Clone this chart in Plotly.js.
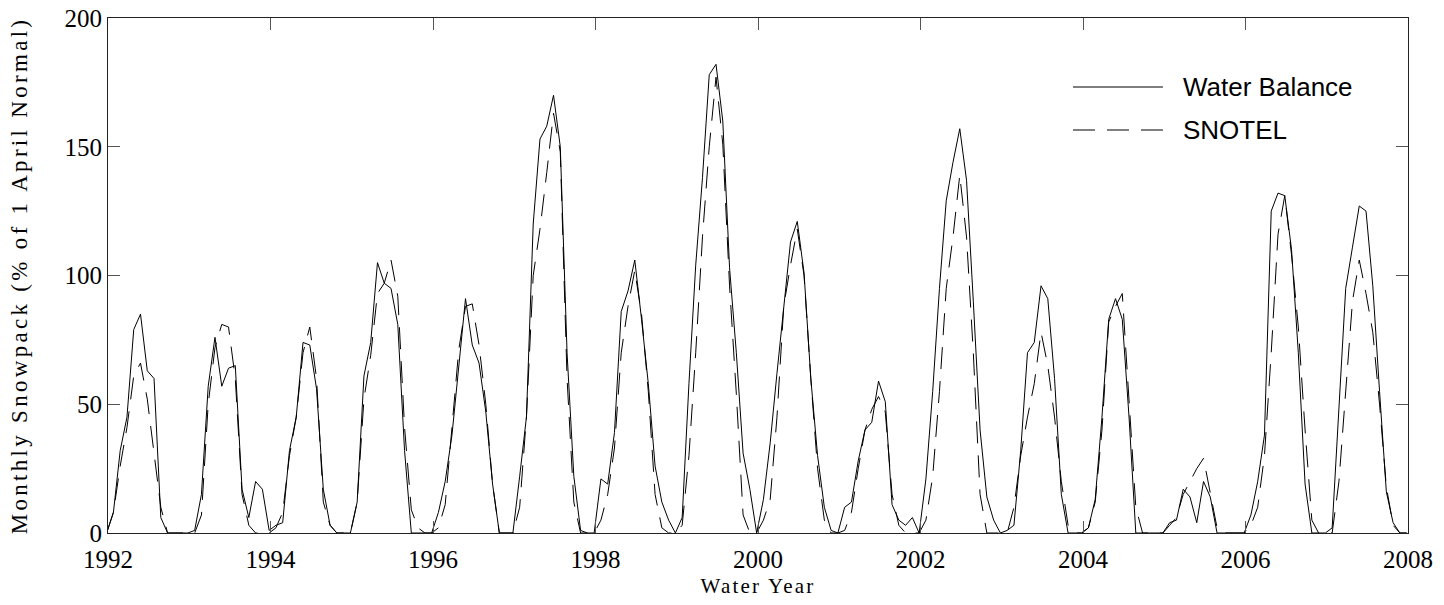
<!DOCTYPE html>
<html><head><meta charset="utf-8">
<script src="https://cdn.plot.ly/plotly-3.0.1.min.js"></script>
<style>html,body{margin:0;padding:0;background:#fff}</style>
</head><body><div id="chart" style="width:1444px;height:605px"></div>
<script>
const seriesNames = ["Water Balance", "SNOTEL"];
const firstYear = 1992;
const lastYear = 2008;
const xTickYears = [1992, 1994, 1996, 1998, 2000, 2002, 2004, 2006, 2008];
const yTickValues = [0, 50, 100, 150, 200];
const xTitle = "Water Year";
const yTitle = "Monthly Snowpack (% of 1 April Normal)";

// monthly values, one row per water year (Oct..Sep)
const waterBalance = [
  0, 8, 32, 45, 79, 85, 63, 60, 6, 0, 0, 0,          // 1992
  0, 1, 15, 57, 76, 57, 64, 65, 17, 6, 20, 17,       // 1993
  1, 3, 4, 32, 45, 74, 73, 56, 17, 3, 0, 0,          // 1994
  0, 12, 61, 74, 105, 97, 95, 81, 32, 0, 0, 0,       // 1995
  0, 8, 20, 38, 66, 91, 73, 66, 47, 19, 0, 0,        // 1996
  0, 22, 45, 120, 153, 158, 170, 150, 70, 22, 1, 0,  // 1997
  0, 21, 19, 39, 86, 94, 106, 83, 58, 26, 12, 5,     // 1998
  0, 6, 58, 104, 138, 178, 182, 160, 103, 70, 31, 17,// 1999
  0, 13, 35, 62, 88, 113, 121, 101, 60, 30, 10, 1,   // 2000
  0, 10, 12, 28, 40, 43, 59, 51, 11, 5, 3, 6,        // 2001
  0, 21, 55, 95, 129, 144, 157, 137, 90, 40, 14, 5,  // 2002
  0, 1, 3, 32, 70, 74, 96, 91, 60, 15, 0, 0,         // 2003
  0, 2, 13, 45, 83, 91, 83, 45, 0, 0, 0, 0,          // 2004
  0, 4, 5, 17, 14, 4, 20, 14, 0, 0, 0, 0,            // 2005
  0, 7, 20, 38, 125, 132, 131, 110, 70, 19, 0, 0,    // 2006
  0, 2, 47, 95, 111, 127, 125, 96, 55, 16, 4, 0,     // 2007
  0                                                  // 2008
];
const snotel = [
  0, 8, 26, 41, 61, 66, 52, 31, 10, 0, 0, 0,         // 1992
  0, 0, 7, 50, 72, 81, 80, 60, 15, 3, 0, 0,          // 1993
  0, 2, 8, 30, 45, 70, 80, 60, 12, 3, 0, 0,          // 1994
  0, 12, 52, 69, 93, 97, 106, 92, 41, 9, 2, 0,       // 1995
  0, 2, 11, 41, 71, 88, 89, 73, 50, 19, 0, 0,        // 1996
  0, 10, 45, 100, 118, 140, 163, 148, 60, 12, 0, 0,  // 1997
  0, 5, 15, 33, 70, 88, 102, 85, 55, 15, 2, 0,       // 1998
  0, 3, 30, 70, 115, 150, 177, 151, 96, 54, 7, 0,    // 1999
  0, 5, 13, 45, 88, 104, 118, 100, 60, 25, 5, 0,     // 2000
  0, 1, 8, 25, 40, 48, 53, 47, 15, 3, 0, 0,          // 2001
  0, 5, 22, 55, 95, 115, 139, 115, 70, 15, 0, 0,     // 2002
  0, 0, 10, 30, 45, 58, 78, 65, 45, 20, 3, 0,        // 2003
  0, 2, 12, 40, 82, 88, 93, 53, 10, 0, 0, 0,         // 2004
  0, 3, 6, 15, 20, 25, 29, 16, 2, 0, 0, 0,           // 2005
  0, 3, 10, 30, 70, 116, 131, 108, 80, 40, 5, 0,     // 2006
  0, 0, 20, 55, 90, 106, 93, 78, 50, 18, 3, 0,       // 2007
  0                                                  // 2008
];

const monthX = waterBalance.map((_, i) => firstYear + (i - 0.2) / 12);

const serif = "Liberation Serif, Times New Roman, serif";
const sans = "Liberation Sans, Arial, sans-serif";

const traces = [
  {x: monthX, y: waterBalance, name: seriesNames[0], type: "scatter", mode: "lines",
   line: {color: "#000", width: 1}, showlegend: false, hoverinfo: "x+y+name"},
  {x: monthX, y: snotel, name: seriesNames[1], type: "scatter", mode: "lines",
   line: {color: "#000", width: 1, dash: "22px,12px"}, showlegend: false, hoverinfo: "x+y+name"}
];

const axisCommon = {
  showgrid: false, zeroline: false, showline: true, linecolor: "#222", linewidth: 1,
  mirror: "ticks", ticks: "inside", ticklen: 12, tickcolor: "#555", tickwidth: 1,
  tickfont: {family: serif, size: 25, color: "#000"}
};

const legendRows = [0.866, 0.7825];
const shapes = seriesNames.map((n, i) => ({
  type: "line", xref: "paper", yref: "paper",
  x0: 0.7423, x1: 0.8115, y0: legendRows[i], y1: legendRows[i],
  line: {color: "#000", width: 1, dash: i === 0 ? "solid" : "22px,12px"}
}));
const annotations = seriesNames.map((n, i) => ({
  text: n, xref: "paper", yref: "paper", x: 0.825, y: legendRows[i],
  xanchor: "left", yanchor: "middle", showarrow: false,
  font: {family: sans, size: 26, color: "#000"}
}));

const layout = {
  width: 1444, height: 605,
  margin: {l: 108, r: 36, t: 18, b: 72},
  paper_bgcolor: "#fff", plot_bgcolor: "#fff",
  showlegend: false,
  xaxis: Object.assign({}, axisCommon, {
    range: [firstYear, lastYear], tickvals: xTickYears, ticktext: xTickYears.map(String),
    ticklabelstandoff: 4,
    title: {text: xTitle, font: {family: serif, size: 21, color: "#000"}, standoff: 6}
  }),
  yaxis: Object.assign({}, axisCommon, {
    range: [0, 200], tickvals: yTickValues,
    title: {text: yTitle, font: {family: serif, size: 23, color: "#000"}, standoff: 30}
  }),
  shapes: shapes,
  annotations: annotations
};

Plotly.newPlot("chart", traces, layout, {staticPlot: true, displayModeBar: false}).then(() => {
  document.querySelectorAll(".g-ytitle text").forEach(t => t.style.letterSpacing = "3.3px");
  document.querySelectorAll(".g-xtitle text").forEach(t => t.style.letterSpacing = "2.2px");
});
</script></body></html>
